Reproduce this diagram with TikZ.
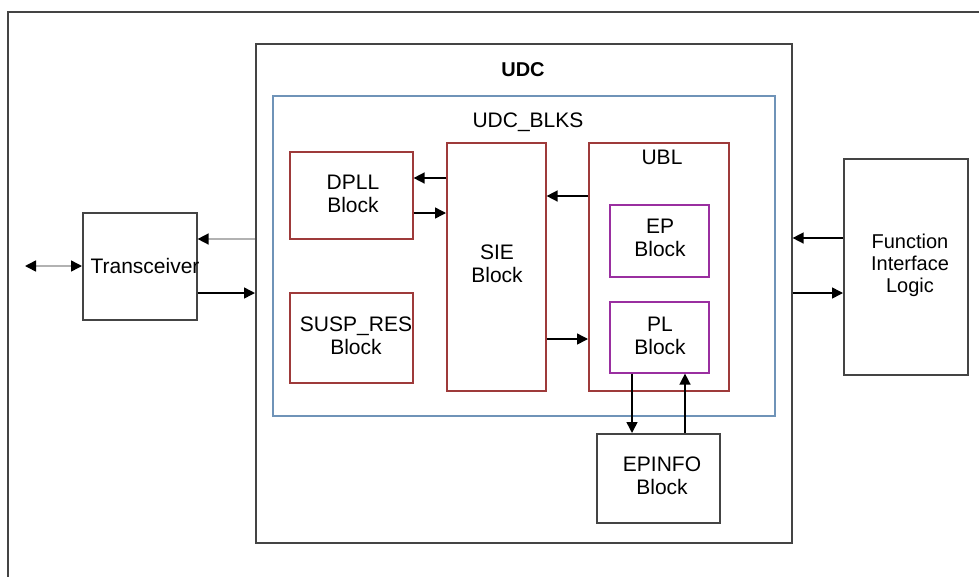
\documentclass[tikz,border=0pt]{standalone}
\usepackage{fontspec}
\setmainfont{Liberation Sans}
\usetikzlibrary{arrows.meta}
\definecolor{boxred}{HTML}{9E3A3A}
\definecolor{boxpurple}{HTML}{9A2FA0}
\definecolor{boxblue}{HTML}{6F93B8}
\definecolor{framegray}{HTML}{444444}
\begin{document}
\begin{tikzpicture}[x=1pt,y=-1pt,
  box/.style 2 args={draw, line width=1.6pt, anchor=north west, inner sep=0pt, minimum width=#1pt, minimum height=#2pt},
  txt/.style={align=center, inner sep=0pt, font=\fontsize{21}{23}\selectfont, text=black},
  arr/.style={line width=1.5pt, -{Triangle[length=11pt,width=11pt]}},
  garr/.style={line width=1.5pt, draw=gray!60, -{Triangle[length=11pt,width=11pt,color=black]}},
  gdarr/.style={line width=1.5pt, draw=gray!60, {Triangle[length=11pt,width=11pt,color=black]}-{Triangle[length=11pt,width=11pt,color=black]}}
]
\useasboundingbox (0,0) rectangle (979,576);
% outer frame
\draw[framegray, line width=1.8pt] (8,590) -- (8,12) -- (990,12);
% boxes
\node[box={536}{499}, draw=framegray] (udc) at (255,43) {};
\node[box={502}{320}, draw=boxblue] (blks) at (272,95) {};
\node[box={123}{87}, draw=boxred] (dpll) at (289,151) {};
\node[box={123}{90}, draw=boxred] (susp) at (289,292) {};
\node[box={99}{248}, draw=boxred] (sie) at (446,142) {};
\node[box={140}{248}, draw=boxred] (ubl) at (588,142) {};
\node[box={99}{72}, draw=boxpurple] (ep) at (609,204) {};
\node[box={99}{71}, draw=boxpurple] (pl) at (609,301) {};
\node[box={123}{89}, draw=framegray] (epinfo) at (596,433) {};
\node[box={114}{107}, draw=framegray] (trx) at (82,212) {};
\node[box={124}{216}, draw=framegray] (fil) at (843,158) {};
% labels
\node[txt, font=\fontsize{20}{23}\selectfont\bfseries] (udcT) at (523,70) {UDC};
\node[txt] (blksT) at (528,122) {UDC\_BLKS};
\node[txt] (ublT) at (662,157) {UBL};
\node[txt] (dpllT) at (353,194) {DPLL\\Block};
\node[txt] (suspT) at (356,336) {SUSP\_RES\\Block};
\node[txt] (sieT) at (497,264) {SIE\\Block};
\node[txt] (epT) at (660,238) {EP\\Block};
\node[txt] (plT) at (660,336) {PL\\Block};
\node[txt] (epinfoT) at (662,476) {EPINFO\\Block};
\node[txt] (trxT) at (145,266) {Transceiver};
\node[txt, font=\fontsize{20}{22}\selectfont] (filT) at (910,265) {Function\\Interface\\Logic};
% connectors
\coordinate (ext) at (25,266);
\draw[gdarr] (ext) -- (trx.west |- ext);
\draw[garr] (udc.west |- 0,239) -- (trx.east |- 0,239);
\draw[arr] (trx.east |- 0,293) -- (udc.west |- 0,293);
\draw[arr] (fil.west |- 0,238) -- (udc.east |- 0,238);
\draw[arr] (udc.east |- 0,293) -- (fil.west |- 0,293);
\draw[arr] (sie.west |- 0,178) -- (dpll.east |- 0,178);
\draw[arr] (dpll.east |- 0,213) -- (sie.west |- 0,213);
\draw[arr] (ubl.west |- 0,196) -- (sie.east |- 0,196);
\draw[arr] (sie.east |- 0,339) -- (ubl.west |- 0,339);
\draw[arr] (pl.south -| 632,0) -- (epinfo.north -| 632,0);
\draw[arr] (epinfo.north -| 685,0) -- (pl.south -| 685,0);
\end{tikzpicture}
\end{document}
